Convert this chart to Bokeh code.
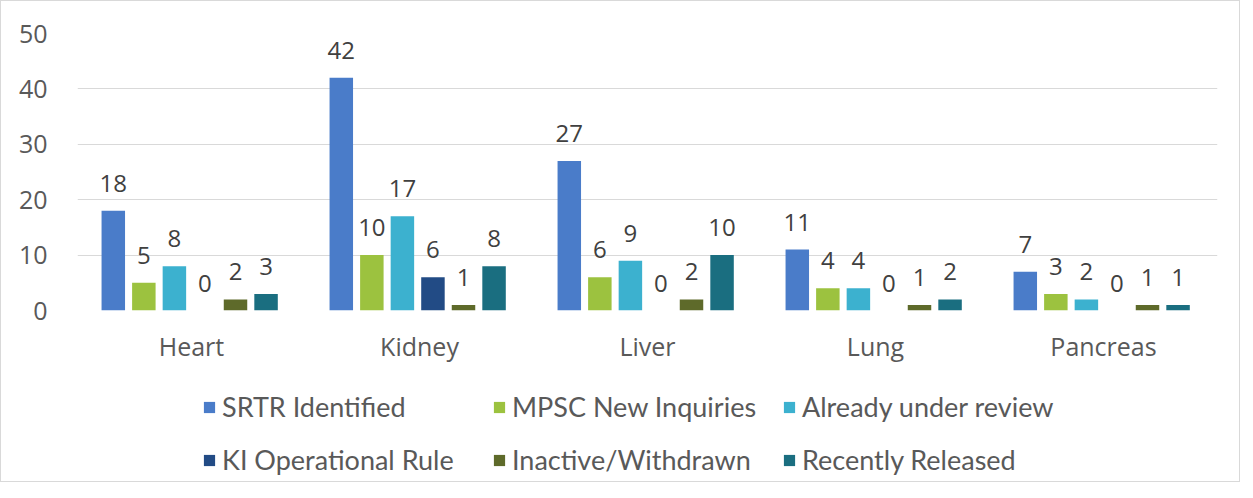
from bokeh.plotting import figure
from bokeh.layouts import column
from bokeh.models import (ColumnDataSource, FactorRange, FixedTicker, LabelSet,
                          Legend, LegendItem, Range1d)
from bokeh.core.properties import value
from bokeh.transform import dodge
from bokeh.embed import file_html
from bokeh.resources import INLINE

organs = ["Heart", "Kidney", "Liver", "Lung", "Pancreas"]
series_names = ["SRTR Identified", "MPSC New Inquiries", "Already under review",
                "KI Operational Rule", "Inactive/Withdrawn", "Recently Released"]
srtr_identified = [18, 42, 27, 11, 7]
mpsc_new_inquiries = [5, 10, 6, 4, 3]
already_under_review = [8, 17, 9, 4, 2]
ki_operational_rule = [0, 6, 0, 0, 0]
inactive_withdrawn = [2, 1, 2, 1, 1]
recently_released = [3, 8, 10, 2, 1]
y_ticks = [0, 10, 20, 30, 40, 50]

series_values = [srtr_identified, mpsc_new_inquiries, already_under_review,
                 ki_operational_rule, inactive_withdrawn, recently_released]
colors = ["#4A7CC9", "#9CC23F", "#3CB1CF", "#224B85", "#5E6A2A", "#1A6E80"]

data = {"organ": organs}
for i, vals in enumerate(series_values):
    data[f"s{i}"] = vals
    data[f"t{i}"] = [str(v) for v in vals]
src = ColumnDataSource(data)

W = 1238
H_TOP = 369
H_LEG = 111

p = figure(x_range=FactorRange(factors=organs, range_padding=0),
           y_range=Range1d(0, 50),
           width=W, height=H_TOP, output_backend="svg", toolbar_location=None,
           min_border_left=76, min_border_right=22, min_border_top=32,
           min_border_bottom=60)
p.outline_line_color = None
p.background_fill_color = "white"
p.border_fill_color = "white"

step = 0.134
width = 0.103
renderers = []
for i in range(6):
    off = (i - 2.5) * step - 0.008
    r = p.vbar(x=dodge("organ", off, range=p.x_range), top=f"s{i}", width=width,
               source=src, fill_color=colors[i], line_color=None)
    renderers.append(r)
    lbl = LabelSet(x=dodge("organ", off, range=p.x_range), y=f"s{i}", text=f"t{i}",
                   source=src, text_align="center", text_baseline="alphabetic",
                   y_offset=19, text_font=value("Open Sans"), text_font_size="24px",
                   text_color="#404040")
    p.add_layout(lbl)

p.yaxis.ticker = FixedTicker(ticks=y_ticks)
p.ygrid.ticker = FixedTicker(ticks=y_ticks)
p.ygrid.grid_line_color = "#d9d9d9"
p.ygrid.grid_line_width = 1
p.xgrid.grid_line_color = None

for ax in (p.xaxis, p.yaxis):
    ax.axis_line_color = None
    ax.major_tick_line_color = None
    ax.minor_tick_line_color = None
    ax.major_label_text_font = "Open Sans"
    ax.major_label_text_font_size = "25px"
    ax.major_label_text_color = "#595959"
p.yaxis.major_label_standoff = 24
p.xaxis.major_label_standoff = 12

# legend panel (separate figure below the chart); its bars have zero height
q = figure(width=W, height=H_LEG, x_range=FactorRange(factors=organs, range_padding=0),
           y_range=Range1d(0, 50),
           x_axis_type=None, y_axis_type=None, output_backend="svg",
           toolbar_location=None, min_border=0)
q.outline_line_color = None
q.grid.visible = False
q.background_fill_color = "white"
q.border_fill_color = "white"
leg_renderers = []
for i in range(6):
    leg_renderers.append(q.vbar(x="organ", top=f"s{i}", bottom=f"s{i}", width=width,
                                source=src, fill_color=colors[i], line_color=None))

legend = Legend(items=[LegendItem(label=n, renderers=[r]) for n, r in zip(series_names, leg_renderers)],
                location=(125, 5), orientation="horizontal", ncols=3,
                glyph_width=14, glyph_height=14, label_standoff=6, spacing=20,
                padding=0, margin=0, border_line_color=None, background_fill_alpha=0,
                label_text_font="Lato", label_text_font_size="27px",
                label_text_color="#595959", label_width=250)
q.add_layout(legend, "center")

layout = column(p, q, styles={"border": "1px solid #d9d9d9"})
open("out.html", "w").write(file_html(layout, INLINE))
